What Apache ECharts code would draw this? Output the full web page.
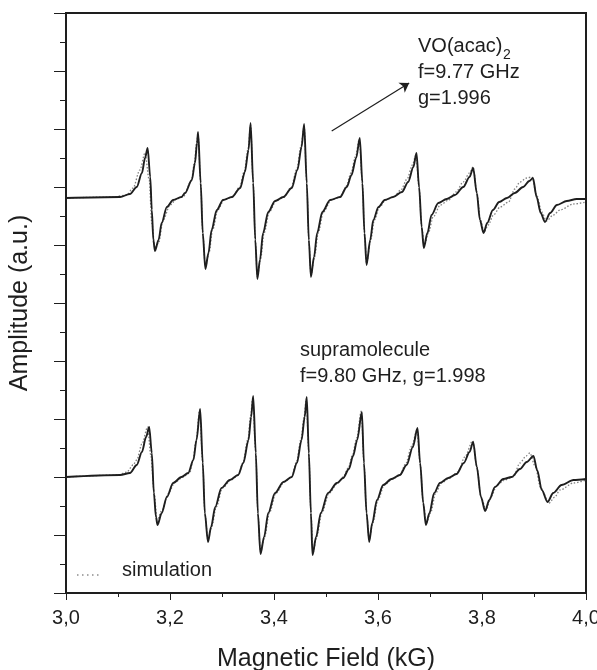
<!DOCTYPE html>
<html><head><meta charset="utf-8">
<script src="https://cdn.jsdelivr.net/npm/echarts@6/dist/echarts.min.js"></script>
<style>html,body{margin:0;padding:0;background:#fff}#c{width:597px;height:670px}</style>
</head><body><div id="c"></div>
<script>
// Magnetic field (kG) vs amplitude (a.u.)
const topExp = [[3.000,395],[3.104,396],[3.123,399],[3.136,406],[3.146,420],[3.152,435],[3.157,445],[3.162,416],[3.165,383],[3.168,353],[3.171,342],[3.178,353],[3.184,370],[3.194,386],[3.206,393],[3.222,396],
[3.229,400],[3.242,413],[3.248,430],[3.252,450],[3.254,461],[3.259,410],[3.263,360],[3.268,324],[3.274,340],[3.280,363],[3.290,383],[3.302,393],[3.319,396],
[3.335,405],[3.344,421],[3.351,443],[3.355,470],[3.360,410],[3.364,353],[3.368,314],[3.373,333],[3.379,360],[3.389,381],[3.402,392],[3.418,396],
[3.434,405],[3.445,423],[3.453,446],[3.458,469],[3.463,410],[3.467,353],[3.471,316],[3.477,336],[3.483,360],[3.493,381],[3.508,393],[3.527,396],
[3.540,406],[3.549,418],[3.558,435],[3.565,455],[3.570,410],[3.574,360],[3.578,328],[3.585,353],[3.591,373],[3.601,386],[3.613,393],[3.629,396],
[3.646,401],[3.658,411],[3.668,426],[3.674,440],[3.679,406],[3.684,366],[3.688,345],[3.695,360],[3.703,378],[3.716,390],[3.732,394],
[3.748,398],[3.764,406],[3.776,416],[3.783,425],[3.790,400],[3.796,373],[3.803,360],[3.810,370],[3.821,383],[3.833,391],[3.848,395],
[3.863,400],[3.879,406],[3.891,412],[3.898,415],[3.905,396],[3.913,380],[3.921,371],[3.931,380],[3.944,388],[3.963,392],[3.982,394],[4.000,394]];

const topSim = [[3.000,395],[3.090,396],[3.117,398],[3.129,405],[3.142,423],[3.152,440],[3.160,413],[3.165,370],[3.171,345],[3.178,350],[3.187,373],[3.200,388],[3.213,394],[3.225,396],
[3.241,412],[3.247,430],[3.251,450],[3.254,459],[3.259,410],[3.263,360],[3.268,326],[3.275,340],[3.282,363],[3.292,383],[3.304,393],[3.320,396],
[3.334,406],[3.343,422],[3.350,444],[3.355,468],[3.360,410],[3.364,353],[3.368,316],[3.374,333],[3.381,360],[3.391,381],[3.404,392],[3.420,396],
[3.433,406],[3.444,424],[3.452,447],[3.458,467],[3.463,410],[3.467,353],[3.471,318],[3.478,336],[3.485,360],[3.495,381],[3.510,393],[3.528,396],
[3.539,407],[3.548,420],[3.557,437],[3.564,454],[3.570,410],[3.574,360],[3.578,330],[3.586,353],[3.593,373],[3.603,386],[3.615,393],[3.630,396],
[3.644,403],[3.656,414],[3.666,428],[3.673,438],[3.679,406],[3.684,366],[3.689,347],[3.697,360],[3.706,376],[3.720,388],[3.736,393],
[3.750,401],[3.764,411],[3.776,420],[3.783,426],[3.790,401],[3.797,373],[3.804,361],[3.812,368],[3.822,378],[3.835,386],[3.851,391],
[3.863,404],[3.873,411],[3.886,415],[3.896,416],[3.905,398],[3.915,381],[3.924,372],[3.937,378],[3.950,383],[3.976,389],[4.000,391]];

const botExp = [[3.000,116],[3.104,118],[3.123,120],[3.136,128],[3.146,141],[3.154,156],[3.160,166],[3.165,140],[3.169,100],[3.173,76],[3.176,68],[3.184,80],[3.194,96],[3.206,110],[3.222,116],[3.235,120],
[3.245,133],[3.251,153],[3.258,184],[3.263,130],[3.267,80],[3.273,51],[3.279,66],[3.287,86],[3.299,105],[3.315,113],[3.331,118],
[3.341,130],[3.351,153],[3.356,176],[3.360,197],[3.365,140],[3.369,80],[3.374,39],[3.381,56],[3.389,80],[3.402,100],[3.418,111],[3.434,116],
[3.444,130],[3.453,153],[3.459,176],[3.463,196],[3.467,140],[3.471,80],[3.474,38],[3.481,56],[3.490,80],[3.504,100],[3.521,110],
[3.533,115],[3.544,124],[3.552,137],[3.560,153],[3.569,181],[3.573,130],[3.578,80],[3.583,51],[3.589,70],[3.598,93],[3.610,108],[3.626,114],[3.642,118],
[3.655,128],[3.667,146],[3.676,165],[3.681,130],[3.687,90],[3.692,68],[3.699,80],[3.708,100],[3.719,110],[3.735,115],[3.751,119],
[3.765,130],[3.776,141],[3.783,151],[3.790,126],[3.798,96],[3.806,82],[3.814,93],[3.825,106],[3.841,114],[3.857,116],
[3.873,124],[3.886,131],[3.899,137],[3.906,123],[3.915,103],[3.926,91],[3.937,100],[3.953,108],[3.976,113],[4.000,114]];

const botSim = [[3.000,116],[3.100,118],[3.117,121],[3.129,128],[3.136,133],[3.146,149],[3.157,166],[3.163,138],[3.170,98],[3.175,73],[3.185,83],[3.196,99],[3.210,111],[3.225,116],[3.238,120],
[3.244,132],[3.250,152],[3.257,183],[3.263,130],[3.267,80],[3.273,53],[3.280,66],[3.289,86],[3.301,105],[3.317,113],[3.332,118],
[3.340,130],[3.350,154],[3.355,177],[3.359,195],[3.365,140],[3.369,80],[3.374,41],[3.382,56],[3.391,80],[3.404,100],[3.420,111],[3.434,116],
[3.443,131],[3.452,154],[3.458,177],[3.462,194],[3.467,140],[3.471,80],[3.475,40],[3.482,56],[3.492,80],[3.506,100],[3.523,110],
[3.533,116],[3.543,125],[3.551,138],[3.559,155],[3.568,182],[3.573,130],[3.578,80],[3.583,53],[3.590,70],[3.600,93],[3.612,108],[3.628,114],[3.642,118],
[3.653,129],[3.665,147],[3.675,163],[3.681,130],[3.687,90],[3.693,70],[3.701,80],[3.711,100],[3.722,110],[3.738,115],
[3.754,121],[3.767,136],[3.782,152],[3.790,127],[3.798,96],[3.808,83],[3.817,96],[3.829,108],[3.844,113],[3.860,116],
[3.873,130],[3.885,137],[3.892,140],[3.902,127],[3.913,105],[3.929,90],[3.940,96],[3.950,103],[3.976,110],[4.000,113]];

const arrowStart = [3.511, 462];
const arrowEnd = [3.660, 510];

const FONT = '"Liberation Sans", Arial, Helvetica, sans-serif';
const INK = '#1e1e1e';

const chart = echarts.init(document.getElementById('c'), null, {renderer: 'canvas'});

function txt(x, y, s, size) {
  return {type: 'text', x: x, y: y, silent: true,
    style: {text: s, fill: INK, font: (size || 20) + 'px ' + FONT, verticalAlign: 'middle', align: 'left'}};
}

const SMOOTH = 0.3;

const option = {
  animation: false,
  backgroundColor: '#fff',
  grid: {left: 66, right: 11, top: 13, bottom: 77, containLabel: false, outerBoundsMode: 'none',
    show: true, borderColor: INK, borderWidth: 2, backgroundColor: 'transparent'},
  xAxis: [{
    type: 'value', min: 3, max: 4, interval: 0.2, position: 'bottom',
    name: 'Magnetic Field (kG)', nameLocation: 'middle', nameGap: 54,
    nameTextStyle: {fontFamily: FONT, fontSize: 25, color: INK},
    axisLine: {show: true, lineStyle: {color: INK, width: 2}},
    axisTick: {show: true, inside: false, length: 7, lineStyle: {color: INK, width: 1}},
    minorTick: {show: true, splitNumber: 2, length: 4, lineStyle: {color: INK, width: 1}},
    axisLabel: {show: true, margin: 15, fontFamily: FONT, fontSize: 20, color: INK,
      formatter: v => v.toFixed(1).replace('.', ',')},
    splitLine: {show: false}, minorSplitLine: {show: false}
  }, {
    type: 'value', min: 3, max: 4, interval: 0.2, position: 'top',
    axisLine: {show: true, lineStyle: {color: INK, width: 2}},
    axisTick: {show: true, inside: true, length: 7, lineStyle: {color: INK, width: 1}},
    minorTick: {show: true, splitNumber: 2, length: 4, lineStyle: {color: INK, width: 1}},
    axisLabel: {show: false}, splitLine: {show: false}
  }],
  yAxis: [{
    type: 'value', min: 0, max: 580, interval: 58, position: 'left',
    name: 'Amplitude (a.u.)', nameLocation: 'middle', nameGap: 33, nameRotate: 90,
    nameTextStyle: {fontFamily: FONT, fontSize: 25, color: INK},
    axisLine: {show: true, lineStyle: {color: INK, width: 2}},
    axisTick: {show: true, inside: false, length: 12, lineStyle: {color: INK, width: 1}},
    minorTick: {show: true, splitNumber: 2, length: 6, lineStyle: {color: INK, width: 1}},
    axisLabel: {show: false}, splitLine: {show: false}, minorSplitLine: {show: false}
  }, {
    type: 'value', min: 0, max: 580, position: 'right',
    axisLine: {show: true, lineStyle: {color: INK, width: 2}},
    axisTick: {show: false}, axisLabel: {show: false}, splitLine: {show: false}
  }],
  series: [
    {type: 'line', data: topSim, showSymbol: false, symbol: 'none', z: 2, smooth: SMOOTH, smoothMonotone: 'x',
      lineStyle: {color: '#808080', width: 1.3, type: [1.5, 1.8]}},
    {type: 'line', data: botSim, showSymbol: false, symbol: 'none', z: 2, smooth: SMOOTH, smoothMonotone: 'x',
      lineStyle: {color: '#808080', width: 1.3, type: [1.5, 1.8]}},
    {type: 'line', data: topExp, showSymbol: false, symbol: 'none', z: 3, smooth: SMOOTH, smoothMonotone: 'x',
      lineStyle: {color: INK, width: 1.9},
      markLine: {silent: true, symbol: ['none', 'arrow'], symbolSize: 9,
        lineStyle: {color: INK, width: 1.2, type: 'solid'}, label: {show: false},
        emphasis: {disabled: true},
        data: [[{coord: arrowStart}, {coord: arrowEnd}]]}},
    {type: 'line', data: botExp, showSymbol: false, symbol: 'none', z: 3, smooth: SMOOTH, smoothMonotone: 'x',
      lineStyle: {color: INK, width: 1.9}}
  ],
  graphic: [
    txt(418, 46, 'VO(acac)'),
    txt(503, 55, '2', 14),
    txt(418, 72, 'f=9.77 GHz'),
    txt(418, 98, 'g=1.996'),
    txt(300, 350, 'supramolecule'),
    txt(300, 376, 'f=9.80 GHz, g=1.998'),
    {type: 'line', silent: true, shape: {x1: 77, y1: 575, x2: 102, y2: 575},
      style: {stroke: '#555', lineWidth: 1.2, lineDash: [1.5, 3.5]}},
    txt(122, 570, 'simulation')
  ]
};
chart.setOption(option);
</script>
</body></html>
